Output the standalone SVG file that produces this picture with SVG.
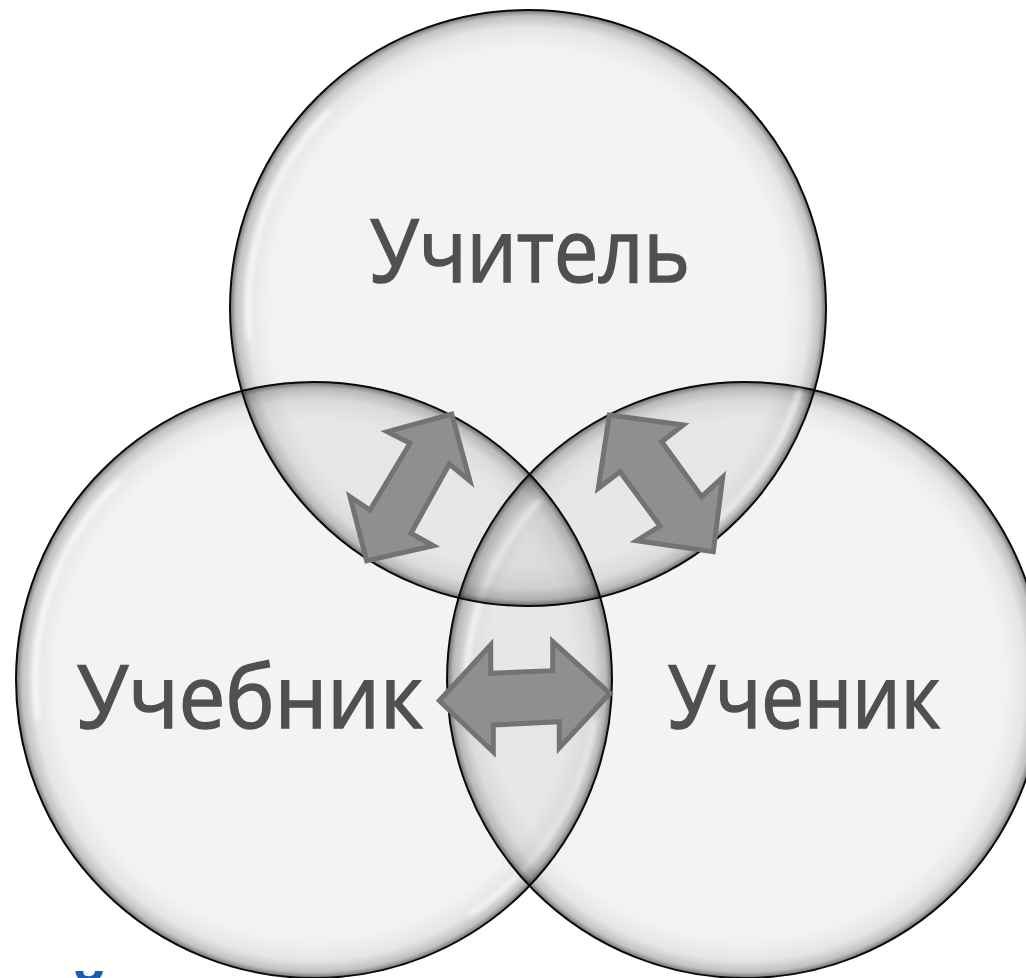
<svg xmlns="http://www.w3.org/2000/svg" width="1026" height="978" viewBox="0 0 1026 978">
  <defs>
    <radialGradient id="glass" cx="0.5" cy="0.5" r="0.5">
      <stop offset="0" stop-color="#000" stop-opacity="0.045"/>
      <stop offset="0.87" stop-color="#000" stop-opacity="0.05"/>
      <stop offset="0.94" stop-color="#000" stop-opacity="0.1"/>
      <stop offset="0.98" stop-color="#000" stop-opacity="0.24"/>
      <stop offset="1" stop-color="#000" stop-opacity="0.55"/>
    </radialGradient>
    <filter id="soft" x="-10%" y="-10%" width="120%" height="120%">
      <feGaussianBlur stdDeviation="2.5"/>
    </filter>
    <style>
      .disc { fill: url(#glass); stroke: #0a0a0a; stroke-width: 2; }
      .shine { fill: none; stroke: #fff; stroke-width: 5; stroke-opacity: 0.75; filter: url(#soft); }
      .label { font-family: "Open Sans", "Liberation Sans", sans-serif; font-size: 88px; fill: #505050; stroke: #505050; stroke-width: 1.6; }
      .arrow { fill: #8f8f8f; stroke: #737373; stroke-width: 5; stroke-linejoin: miter; }
    </style>
  </defs>
  <rect width="1026" height="978" fill="#fff"/>

  <g id="node-textbook">
    <circle class="disc" cx="314" cy="680" r="298"/>
    <path class="shine" d="M 38 720 A 278 278 0 0 1 120 480"/>
    <path class="shine" d="M 595 720 A 281 281 0 0 1 470 915" stroke-opacity="0.5"/>
    <text class="label" x="77" y="728" textLength="346" lengthAdjust="spacingAndGlyphs">Учебник</text>
  </g>

  <g id="node-student">
    <circle class="disc" cx="745" cy="680" r="298"/>
    <path class="shine" d="M 468 720 A 278 278 0 0 1 540 500"/>
    <text class="label" x="668" y="728" textLength="272" lengthAdjust="spacingAndGlyphs">Ученик</text>
  </g>

  <g id="node-teacher">
    <circle class="disc" cx="528" cy="308" r="298"/>
    <path class="shine" d="M 250 340 A 279 279 0 0 1 330 110"/>
    <path class="shine" d="M 800 390 A 281 281 0 0 1 700 535" stroke-opacity="0.5"/>
    <text class="label" x="370" y="282" textLength="320" lengthAdjust="spacingAndGlyphs">Учитель</text>
  </g>

  <g id="connectors">
    <polygon class="arrow" points="451.7,414 470,481 449.3,464 411,533.3 433.3,545.7 366.7,560.7 350,496.7 370,510 410,443.3 387.3,431.7"/>
    <polygon class="arrow" points="609.3,415 683.3,425 661.7,441.7 701.7,496.7 722.7,477.3 713.3,551.7 636.7,540.7 660,526 620,471.7 598.3,488.3"/>
    <polygon class="arrow" points="439.3,700.7 490.7,645 490.7,673.3 552.7,670.7 552.7,641.7 610,693.3 559.3,748 559.3,721.7 493.3,725 493.3,752"/>
  </g>

  <text x="68" y="1016" font-family="Open Sans, Liberation Sans, sans-serif" font-size="58" font-weight="bold" fill="#1a5cb0">й</text>
</svg>
